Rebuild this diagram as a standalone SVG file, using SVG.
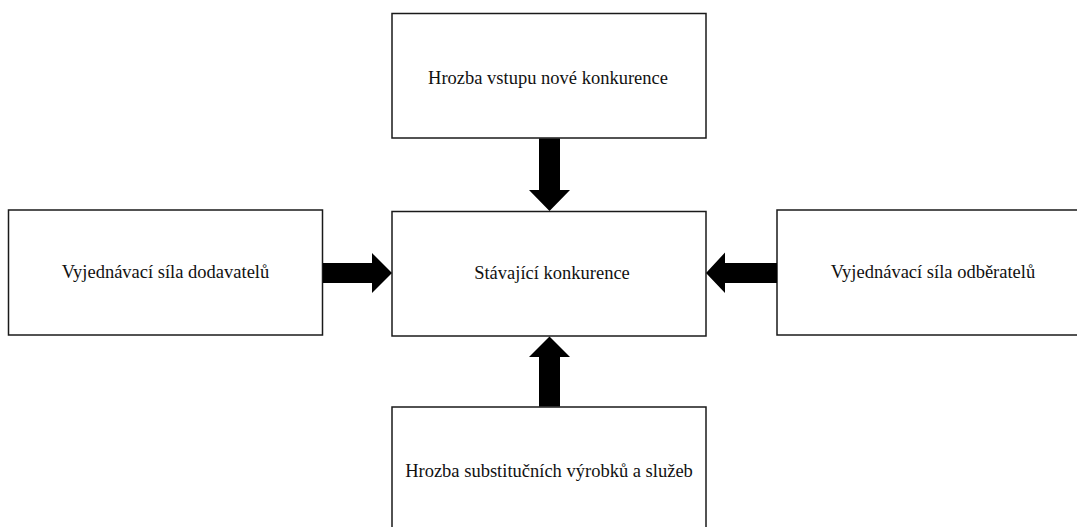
<svg xmlns="http://www.w3.org/2000/svg" width="1077" height="527" viewBox="0 0 1077 527">
<style>
.box{fill:#fff;stroke:#1a1a1a;stroke-width:1.5}
.lbl{font-family:"Liberation Serif","Times New Roman",serif;font-size:18.5px;fill:#111;text-anchor:middle}
.arr{fill:#000}
</style>
<rect width="1077" height="527" fill="#fff"/>
<g id="node-top"><rect class="box" x="392" y="13.5" width="314" height="124.5"/><text class="lbl" x="548" y="84">Hrozba vstupu nové konkurence</text></g>
<g id="node-center"><rect class="box" x="392" y="211.5" width="314" height="124.5"/><text class="lbl" x="552" y="279">Stávající konkurence</text></g>
<g id="node-left"><rect class="box" x="8.5" y="210" width="314" height="125"/><text class="lbl" x="165.5" y="278">Vyjednávací síla dodavatelů</text></g>
<g id="node-right"><rect class="box" x="777" y="210" width="320" height="125"/><text class="lbl" x="933" y="278">Vyjednávací síla odběratelů</text></g>
<g id="node-bottom"><rect class="box" x="392" y="407" width="314" height="140"/><text class="lbl" x="549" y="477">Hrozba substitučních výrobků a služeb</text></g>
<g id="connectors">
<polygon class="arr" points="539,138.5 560,138.5 560,190 570,190 549.5,211 529,190 539,190"/>
<polygon class="arr" points="539,406.5 560,406.5 560,357 570,357 549.5,336.5 529,357 539,357"/>
<polygon class="arr" points="323,263 372,263 372,253 392,273 372,293 372,283 323,283"/>
<polygon class="arr" points="777,263 725,263 725,252.5 706,273 725,293 725,283 777,283"/>
</g>
</svg>
